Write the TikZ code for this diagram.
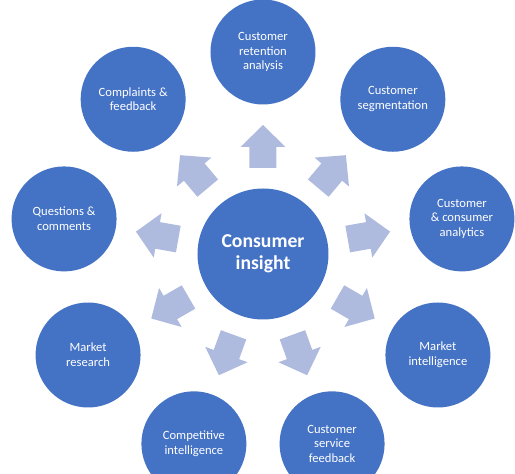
\documentclass[tikz,border=0pt]{standalone}
\usepackage{fontspec}
\setmainfont{Carlito}
\definecolor{insblue}{RGB}{68,114,196}
\definecolor{arrowblue}{RGB}{174,187,222}
\begin{document}
\begin{tikzpicture}[
  x=1pt, y=1pt,
  hub/.style={circle, fill=insblue, minimum size=131pt, inner sep=0pt, text=white, align=center, font=\fontsize{19.7}{22}\selectfont\bfseries},
  topic/.style={circle, fill=insblue, minimum size=105pt, inner sep=0pt, text=white, align=center, font=\fontsize{12.6}{14.7}\selectfont},
  blockarrow/.style={fill=arrowblue}
]
\useasboundingbox (-263,-220) rectangle (252,254);
\node[hub] (insight) at (0,0) {Consumer\\insight};
\foreach \a/\name/\txt in {90/retention/{Customer\\retention\\analysis},
  50/segmentation/{Customer\\segmentation},
  10/analytics/{Customer\\\& consumer\\analytics},
  -30/mktintel/{Market\\intelligence},
  -70/servicefb/{Customer\\service\\feedback},
  -110/competitive/{Competitive\\intelligence},
  -150/mktresearch/{Market\\research},
  170/questions/{Questions \&\\comments},
  130/complaints/{Complaints \&\\feedback}} {
  \node[topic] (\name) at (\a:202) {\txt};
  \fill[blockarrow, rotate=\a] (86,-13.5) -- (107,-13.5) -- (107,-22.5) -- (129,0)
    -- (107,22.5) -- (107,13.5) -- (86,13.5) -- cycle;
}
\end{tikzpicture}
\end{document}
